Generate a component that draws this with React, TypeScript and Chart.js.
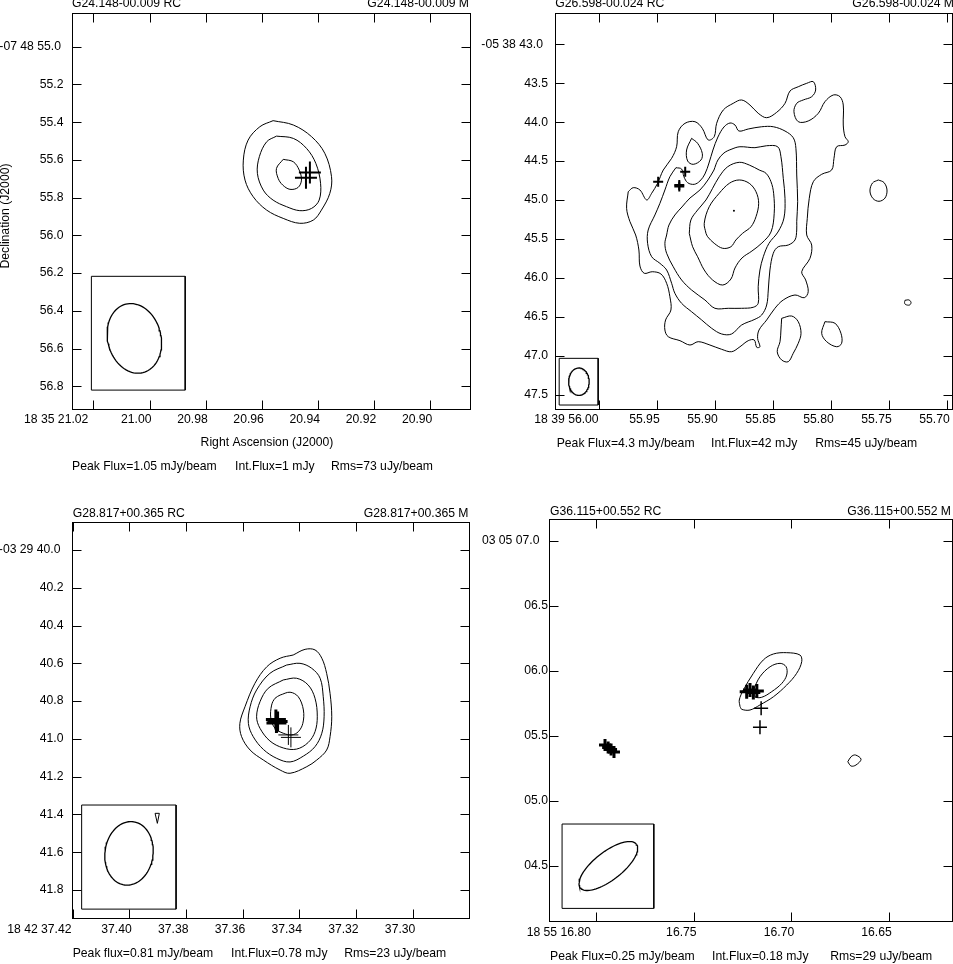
import React, { useEffect, useRef } from "react";
import { Chart, registerables } from "chart.js";

Chart.register(...registerables);

type Pt = [number, number];

// ================= Panel 1 : G24.148-00.009 =================
const p1Titles = ["G24.148-00.009 RC", "G24.148-00.009 M"];
const p1Stats = ["Peak Flux=1.05 mJy/beam", "Int.Flux=1 mJy", "Rms=73 uJy/beam"];
const p1XTicks = [21.02, 21.0, 20.98, 20.96, 20.94, 20.92, 20.9];
const p1XLabels = ["18 35 21.02", "21.00", "20.98", "20.96", "20.94", "20.92", "20.90"];
const p1YTicks = [55.0, 55.2, 55.4, 55.6, 55.8, 56.0, 56.2, 56.4, 56.6, 56.8];
const p1YLabels = ["-07 48 55.0", "55.2", "55.4", "55.6", "55.8", "56.0", "56.2", "56.4", "56.6", "56.8"];
const p1XLimits = [20.8859, 21.0276];
const p1YLimits = [54.8214, 56.9202];
const p1ArcsecPerSec = 14.86;
const p1Contour1: Pt[] = [[20.956, 55.392], [20.9488, 55.415], [20.9423, 55.477], [20.9376, 55.565], [20.9352, 55.689], [20.9358, 55.777], [20.9388, 55.866], [20.9417, 55.919], [20.9465, 55.936], [20.9524, 55.91], [20.9583, 55.866], [20.9631, 55.795], [20.966, 55.707], [20.9666, 55.601], [20.9649, 55.495], [20.9607, 55.424]];
const p1Contour2: Pt[] = [[20.9548, 55.474], [20.9488, 55.486], [20.9441, 55.539], [20.9408, 55.618], [20.9391, 55.724], [20.9396, 55.813], [20.9423, 55.857], [20.9465, 55.869], [20.9512, 55.848], [20.956, 55.813], [20.9595, 55.76], [20.9616, 55.671], [20.9609, 55.583], [20.9583, 55.504]];
const p1Contour3: Pt[] = [[20.9524, 55.597], [20.9488, 55.61], [20.9467, 55.654], [20.9459, 55.707], [20.9471, 55.746], [20.95, 55.756], [20.9526, 55.733], [20.9542, 55.698], [20.9548, 55.645]];
const p1Sources: Pt[] = [[20.9429, 55.667], [20.9443, 55.694]];
const p1Beam = [21.0054, 56.546, 0.187, 0.141, 14]; // centre RA s, centre Dec ", semi-major ", semi-minor ", PA deg
const p1BeamBox: Pt[] = [[21.0207, 56.217], [20.9873, 56.82]];

// ================= Panel 2 : G26.598-00.024 =================
const p2Titles = ["G26.598-00.024 RC", "G26.598-00.024 M"];
const p2Stats = ["Peak Flux=4.3 mJy/beam", "Int.Flux=42 mJy", "Rms=45 uJy/beam"];
const p2XTicks = [56.0, 55.95, 55.9, 55.85, 55.8, 55.75, 55.7];
const p2XLabels = ["18 39 56.00", "55.95", "55.90", "55.85", "55.80", "55.75", "55.70"];
const p2YTicks = [43.0, 43.5, 44.0, 44.5, 45.0, 45.5, 46.0, 46.5, 47.0, 47.5];
const p2YLabels = ["-05 38 43.0", "43.5", "44.0", "44.5", "45.0", "45.5", "46.0", "46.5", "47.0", "47.5"];
const p2XLimits = [55.6955, 56.0376];
const p2YLimits = [42.5974, 47.686];
const p2ArcsecPerSec = 14.93;
const p2Contour1: Pt[] = [[55.9745, 44.894], [55.9702, 44.842], [55.9644, 44.872], [55.9586, 45.0], [55.9543, 44.914], [55.9492, 44.786], [55.9443, 44.615], [55.9371, 44.465], [55.9328, 44.316], [55.9314, 44.123], [55.9256, 44.015], [55.917, 43.994], [55.9107, 44.079], [55.9056, 44.229], [55.9004, 44.187], [55.8983, 44.015], [55.8926, 43.844], [55.884, 43.758], [55.8768, 43.715], [55.8696, 43.78], [55.8625, 43.886], [55.8552, 43.943], [55.8466, 43.874], [55.8394, 43.758], [55.8351, 43.6], [55.828, 43.545], [55.8207, 43.501], [55.815, 43.48], [55.813, 43.587], [55.8164, 43.673], [55.8237, 43.715], [55.8293, 43.758], [55.8317, 43.866], [55.828, 43.994], [55.8194, 43.985], [55.8107, 43.886], [55.805, 43.737], [55.7978, 43.651], [55.792, 43.673], [55.7892, 43.78], [55.7892, 44.037], [55.7877, 44.187], [55.7849, 44.251], [55.7877, 44.294], [55.7949, 44.316], [55.7972, 44.465], [55.7992, 44.615], [55.8078, 44.67], [55.815, 44.765], [55.8185, 44.979], [55.8202, 45.236], [55.8207, 45.45], [55.8164, 45.579], [55.8179, 45.75], [55.825, 45.922], [55.8216, 46.028], [55.8194, 46.179], [55.8228, 46.256], [55.8308, 46.221], [55.8409, 46.285], [55.8481, 46.392], [55.8552, 46.542], [55.8618, 46.671], [55.863, 46.778], [55.861, 46.886], [55.8638, 46.893], [55.8659, 46.799], [55.8711, 46.808], [55.8782, 46.886], [55.8854, 46.95], [55.894, 46.919], [55.9041, 46.864], [55.9142, 46.821], [55.9213, 46.864], [55.9299, 46.808], [55.94, 46.757], [55.9429, 46.671], [55.9423, 46.542], [55.9377, 46.414], [55.9386, 46.243], [55.9414, 46.071], [55.9463, 45.951], [55.9538, 45.922], [55.9607, 45.942], [55.9644, 45.849], [55.9653, 45.643], [55.9681, 45.45], [55.973, 45.279], [55.9759, 45.107]];
const p2Contour2: Pt[] = [[55.9334, 44.585], [55.9285, 44.602], [55.9265, 44.701], [55.9233, 44.778], [55.9176, 44.799], [55.9127, 44.756], [55.9084, 44.666], [55.9049, 44.525], [55.9015, 44.358], [55.8972, 44.191], [55.892, 44.062], [55.8868, 44.011], [55.8825, 44.037], [55.8791, 44.114], [55.8711, 44.088], [55.8595, 44.059], [55.8495, 44.059], [55.8394, 44.114], [55.8323, 44.2], [55.83, 44.336], [55.8293, 44.679], [55.8285, 45.022], [55.8293, 45.279], [55.8293, 45.386], [55.8308, 45.514], [55.8366, 45.579], [55.8452, 45.601], [55.8495, 45.685], [55.8524, 45.9], [55.8538, 46.157], [55.8552, 46.35], [55.8595, 46.478], [55.8653, 46.533], [55.8768, 46.607], [55.8854, 46.722], [55.894, 46.722], [55.9026, 46.649], [55.9112, 46.542], [55.9199, 46.436], [55.9285, 46.328], [55.9343, 46.199], [55.9371, 46.071], [55.9414, 45.9], [55.9472, 45.814], [55.9543, 45.729], [55.9578, 45.557], [55.9573, 45.386], [55.9515, 45.193], [55.9472, 45.043], [55.9429, 44.872], [55.9386, 44.701]];
const p2Contour3: Pt[] = [[55.9006, 44.615], [55.8972, 44.486], [55.892, 44.396], [55.8851, 44.345], [55.8782, 44.316], [55.8653, 44.328], [55.8552, 44.303], [55.8457, 44.316], [55.8429, 44.444], [55.8409, 44.722], [55.8394, 44.979], [55.8403, 45.232], [55.8455, 45.412], [55.8532, 45.557], [55.8581, 45.729], [55.861, 45.9], [55.8625, 46.115], [55.8625, 46.328], [55.8668, 46.379], [55.8768, 46.392], [55.8883, 46.392], [55.8998, 46.392], [55.9084, 46.285], [55.9199, 46.157], [55.9285, 46.028], [55.9357, 45.858], [55.9414, 45.685], [55.9429, 45.557], [55.9414, 45.45], [55.9394, 45.322], [55.9343, 45.193], [55.9282, 45.09], [55.9213, 44.975], [55.9127, 44.872], [55.9058, 44.743]];
const p2Contour4: Pt[] = [[55.9219, 45.428], [55.9205, 45.257], [55.9147, 45.129], [55.9075, 45.0], [55.9018, 44.85], [55.8961, 44.701], [55.8888, 44.573], [55.8788, 44.516], [55.8702, 44.551], [55.8616, 44.615], [55.8558, 44.657], [55.8515, 44.765], [55.8492, 44.914], [55.8487, 45.171], [55.8515, 45.412], [55.8593, 45.553], [55.8679, 45.656], [55.8765, 45.746], [55.8825, 45.874], [55.886, 46.016], [55.8931, 46.093], [55.9018, 46.028], [55.909, 45.9], [55.9147, 45.729], [55.919, 45.601]];
const p2Contour5: Pt[] = [[55.9075, 45.428], [55.909, 45.3], [55.9047, 45.087], [55.8961, 44.914], [55.8874, 44.786], [55.8788, 44.743], [55.8702, 44.786], [55.8644, 44.894], [55.8621, 45.043], [55.8644, 45.215], [55.8687, 45.344], [55.8759, 45.428], [55.8817, 45.514], [55.886, 45.601], [55.8931, 45.621], [55.9004, 45.557], [55.9061, 45.472]];
const p2Island: Pt[] = [[55.9199, 44.208], [55.9147, 44.272], [55.9107, 44.4], [55.9118, 44.486], [55.9185, 44.542], [55.9233, 44.499], [55.9242, 44.358]];
const p2EastBlob: Pt[] = [[55.759, 44.743], [55.7541, 44.776], [55.7515, 44.872], [55.7532, 44.975], [55.7584, 45.017], [55.7636, 44.981], [55.7662, 44.885], [55.764, 44.782]];
const p2TinyBlob: Pt[] = [[55.736, 46.289], [55.7325, 46.285], [55.7308, 46.318], [55.7321, 46.35], [55.7356, 46.343], [55.7364, 46.318]];
const p2SouthBlobA: Pt[] = [[55.8423, 46.521], [55.8337, 46.491], [55.828, 46.564], [55.8256, 46.713], [55.828, 46.842], [55.8323, 46.97], [55.8366, 47.078], [55.8423, 47.056], [55.8461, 46.95], [55.8437, 46.821], [55.8429, 46.671]];
const p2SouthBlobB: Pt[] = [[55.805, 46.564], [55.7963, 46.585], [55.7912, 46.713], [55.7906, 46.842], [55.7949, 46.886], [55.8035, 46.821], [55.8078, 46.713]];
const p2Peak: Pt[] = [[55.8834, 45.138]];
const p2Sources: Pt[] = [[55.9487, 44.765], [55.9305, 44.808], [55.9305, 44.827], [55.9254, 44.637]];
const p2Beam = [56.017, 47.335, 0.176, 0.132, 0];
const p2BeamBox: Pt[] = [[56.034, 47.035], [56.0004, 47.635]];

// ================= Panel 3 : G28.817+00.365 =================
const p3Titles = ["G28.817+00.365 RC", "G28.817+00.365 M"];
const p3Stats = ["Peak flux=0.81 mJy/beam", "Int.Flux=0.78 mJy", "Rms=23 uJy/beam"];
const p3XTicks = [37.42, 37.4, 37.38, 37.36, 37.34, 37.32, 37.3];
const p3XLabels = ["18 42 37.42", "37.40", "37.38", "37.36", "37.34", "37.32", "37.30"];
const p3YTicks = [40.0, 40.2, 40.4, 40.6, 40.8, 41.0, 41.2, 41.4, 41.6, 41.8];
const p3YLabels = ["-03 29 40.0", "40.2", "40.4", "40.6", "40.8", "41.0", "41.2", "41.4", "41.6", "41.8"];
const p3XLimits = [37.2802, 37.4202];
const p3YLimits = [39.852, 41.948];
const p3ArcsecPerSec = 14.97;
const p3Contour1: Pt[] = [[37.3422, 40.556], [37.338, 40.526], [37.3345, 40.529], [37.3321, 40.573], [37.3304, 40.653], [37.3292, 40.759], [37.3286, 40.883], [37.3292, 40.988], [37.3304, 41.059], [37.3339, 41.112], [37.3374, 41.147], [37.3433, 41.182], [37.3468, 41.165], [37.3527, 41.112], [37.3574, 41.059], [37.3604, 40.988], [37.361, 40.918], [37.3592, 40.83], [37.3557, 40.706], [37.3515, 40.618], [37.3468, 40.573]];
const p3Contour2: Pt[] = [[37.3445, 40.609], [37.3398, 40.6], [37.3357, 40.626], [37.3327, 40.679], [37.3316, 40.777], [37.3313, 40.883], [37.3321, 40.97], [37.3345, 41.041], [37.3386, 41.091], [37.3433, 41.122], [37.348, 41.103], [37.3527, 41.056], [37.3563, 40.988], [37.358, 40.918], [37.3574, 40.83], [37.3551, 40.741], [37.3504, 40.653]];
const p3Contour3: Pt[] = [[37.3457, 40.688], [37.341, 40.679], [37.3369, 40.715], [37.3345, 40.785], [37.3337, 40.883], [37.3345, 40.962], [37.3369, 41.019], [37.341, 41.054], [37.3457, 41.048], [37.3504, 41.011], [37.3539, 40.944], [37.3551, 40.883], [37.3539, 40.803], [37.351, 40.732]];
const p3Contour4: Pt[] = [[37.3468, 40.768], [37.3433, 40.753], [37.3404, 40.777], [37.3386, 40.847], [37.3388, 40.918], [37.3404, 40.962], [37.3427, 40.979], [37.3457, 40.97], [37.3486, 40.944], [37.3501, 40.891], [37.3498, 40.821], [37.3486, 40.785]];
const p3Negative: Pt[] = [[37.3909, 41.394], [37.3894, 41.394], [37.3901, 41.447]];
const p3SourcesBold: Pt[] = [[37.3483, 40.897], [37.3477, 40.908], [37.3481, 40.916]];
const p3SourcesThin: Pt[] = [[37.3439, 40.979], [37.343, 40.992]];
const p3Beam = [37.4001, 41.606, 0.169, 0.127, -8];
const p3BeamBox: Pt[] = [[37.4168, 41.35], [37.3835, 41.901]];

// ================= Panel 4 : G36.115+00.552 =================
const p4Titles = ["G36.115+00.552 RC", "G36.115+00.552 M"];
const p4Stats = ["Peak Flux=0.25 mJy/beam", "Int.Flux=0.18 mJy", "Rms=29 uJy/beam"];
const p4XTicks = [16.8, 16.75, 16.7, 16.65];
const p4XLabels = ["18 55 16.80", "16.75", "16.70", "16.65"];
const p4YTicks = [7.0, 6.5, 6.0, 5.5, 5.0, 4.5];
const p4YLabels = ["03 05 07.0", "06.5", "06.0", "05.5", "05.0", "04.5"];
const p4XLimits = [16.6176, 16.8241];
const p4YLimits = [4.0771, 7.1693];
const p4ArcsecPerSec = 14.98;
const p4Contour1: Pt[] = [[16.7262, 5.726], [16.7266, 5.777], [16.7245, 5.854], [16.7194, 5.982], [16.7143, 6.085], [16.7091, 6.131], [16.7023, 6.141], [16.6955, 6.123], [16.6946, 6.072], [16.6972, 5.982], [16.7023, 5.892], [16.7091, 5.802], [16.716, 5.739], [16.7211, 5.7], [16.7253, 5.705]];
const p4Contour2: Pt[] = [[16.7194, 5.854], [16.716, 5.956], [16.7108, 6.033], [16.7057, 6.059], [16.7026, 6.033], [16.7023, 5.969], [16.7048, 5.905], [16.71, 5.841], [16.7151, 5.798], [16.7185, 5.802]];
const p4Blob: Pt[] = [[16.671, 5.302], [16.6693, 5.341], [16.6671, 5.354], [16.6642, 5.321], [16.6668, 5.277], [16.6693, 5.269]];
const p4SourcesA: Pt[] = [[16.7228, 5.841], [16.7211, 5.854], [16.7194, 5.835], [16.7176, 5.846]];
const p4SourcesThin: Pt[] = [[16.7154, 5.713], [16.716, 5.567]];
const p4SourcesB: Pt[] = [[16.7954, 5.431], [16.7938, 5.412], [16.7923, 5.396], [16.7908, 5.377]];
const p4Beam = [16.7937, 4.5, 0.273, 0.108, -52];
const p4BeamBox: Pt[] = [[16.8174, 4.823], [16.7704, 4.174]];

// ================= layout & styling =================
const W = 953;
const H = 964;
const FONT = '12.2px "Liberation Sans", Arial, Helvetica, sans-serif';

interface CrossSet { pts: Pt[]; r: number; w: number; }
interface Spec {
  frame: { left: number; top: number; right: number; bottom: number };
  xLimits: number[]; yLimits: number[]; yReverse: boolean; northSign: number; k: number;
  xTicks: number[]; xLabels: string[]; yTicks: number[]; yLabels: string[];
  contours: Pt[][]; polys: Pt[][]; crosses: CrossSet[]; dots: Pt[];
  beam: number[]; beamBox: Pt[];
  titles: string[]; stats: string[];
  txt: { titleY: number; titleLX: number; titleRX: number; statsY: number; statsX: number[]; xLabY: number; xOff: number; xFirstOff: number; yLabR: number; yFirstR: number };
  axisTitles: boolean;
}

const SPECS: Spec[] = [
  {
    frame: { left: 72, top: 13, right: 470, bottom: 409 },
    xLimits: p1XLimits, yLimits: p1YLimits, yReverse: true, northSign: -1, k: p1ArcsecPerSec,
    xTicks: p1XTicks, xLabels: p1XLabels, yTicks: p1YTicks, yLabels: p1YLabels,
    contours: [p1Contour1, p1Contour2, p1Contour3], polys: [],
    crosses: [{ pts: p1Sources, r: 11, w: 2 }], dots: [],
    beam: p1Beam, beamBox: p1BeamBox, titles: p1Titles, stats: p1Stats,
    txt: { titleY: 6.7, titleLX: 72, titleRX: 469, statsY: 466.5, statsX: [72, 235, 331], xLabY: 419.5, xOff: 2, xFirstOff: -5, yLabR: 63.5, yFirstR: 61 },
    axisTitles: true,
  },
  {
    frame: { left: 555, top: 13, right: 952, bottom: 409 },
    xLimits: p2XLimits, yLimits: p2YLimits, yReverse: true, northSign: -1, k: p2ArcsecPerSec,
    xTicks: p2XTicks, xLabels: p2XLabels, yTicks: p2YTicks, yLabels: p2YLabels,
    contours: [p2Contour1, p2Contour2, p2Contour3, p2Contour4, p2Contour5, p2Island, p2EastBlob, p2TinyBlob, p2SouthBlobA, p2SouthBlobB], polys: [],
    crosses: [{ pts: p2Sources, r: 5, w: 2 }], dots: p2Peak,
    beam: p2Beam, beamBox: p2BeamBox, titles: p2Titles, stats: p2Stats,
    txt: { titleY: 6.7, titleLX: 555.3, titleRX: 954, statsY: 444, statsX: [556.7, 711, 815.3], xLabY: 419.5, xOff: 3, xFirstOff: 0, yLabR: 548, yFirstR: 543 },
    axisTitles: false,
  },
  {
    frame: { left: 72, top: 522, right: 469, bottom: 918 },
    xLimits: p3XLimits, yLimits: p3YLimits, yReverse: true, northSign: -1, k: p3ArcsecPerSec,
    xTicks: p3XTicks, xLabels: p3XLabels, yTicks: p3YTicks, yLabels: p3YLabels,
    contours: [p3Contour1, p3Contour2, p3Contour3, p3Contour4], polys: [p3Negative],
    crosses: [{ pts: p3SourcesBold, r: 10, w: 3 }, { pts: p3SourcesThin, r: 10, w: 1 }], dots: [],
    beam: p3Beam, beamBox: p3BeamBox, titles: p3Titles, stats: p3Stats,
    txt: { titleY: 516.7, titleLX: 72.7, titleRX: 468.5, statsY: 954, statsX: [72.7, 231, 344.3], xLabY: 929.5, xOff: 2.5, xFirstOff: -1, yLabR: 63.5, yFirstR: 60.5 },
    axisTitles: false,
  },
  {
    frame: { left: 549, top: 519, right: 952, bottom: 921 },
    xLimits: p4XLimits, yLimits: p4YLimits, yReverse: false, northSign: 1, k: p4ArcsecPerSec,
    xTicks: p4XTicks, xLabels: p4XLabels, yTicks: p4YTicks, yLabels: p4YLabels,
    contours: [p4Contour1, p4Contour2, p4Blob], polys: [],
    crosses: [{ pts: p4SourcesA, r: 7, w: 3 }, { pts: p4SourcesThin, r: 7, w: 1.5 }, { pts: p4SourcesB, r: 6, w: 3 }], dots: [],
    beam: p4Beam, beamBox: p4BeamBox, titles: p4Titles, stats: p4Stats,
    txt: { titleY: 515, titleLX: 550, titleRX: 951, statsY: 956.5, statsX: [550, 712, 830.3], xLabY: 932.5, xOff: 3, xFirstOff: -5, yLabR: 548, yFirstR: 539.5 },
    axisTitles: false,
  },
];

const toXY = (pts: Pt[]) => pts.map((p) => ({ x: p[0], y: p[1] }));
const closed = (pts: Pt[]) => toXY([...pts, pts[0]]);

function beamOutline(beam: number[], k: number, ns: number) {
  const [cx, cy, a, b, paDeg] = beam;
  const pa = (paDeg * Math.PI) / 180;
  const out: { x: number; y: number }[] = [];
  for (let i = 0; i <= 90; i++) {
    const t = (i / 90) * Math.PI * 2;
    const u = a * Math.cos(t);
    const v = b * Math.sin(t);
    const dE = u * Math.sin(pa) + v * Math.cos(pa);
    const dN = u * Math.cos(pa) - v * Math.sin(pa);
    out.push({ x: cx + dE / k, y: cy + ns * dN });
  }
  return out;
}

function boxOutline(box: Pt[]) {
  const [[x1, y1], [x2, y2]] = box;
  return toXY([[x1, y1], [x2, y1], [x2, y2], [x1, y2], [x1, y1]]);
}

function Panel({ spec, idx }: { spec: Spec; idx: number }) {
  const ref = useRef<HTMLCanvasElement>(null);
  useEffect(() => {
    const line = (data: any[], width: number, tension: number) => ({
      data, showLine: true, borderColor: "#000", borderWidth: width, pointRadius: 0, tension, fill: false,
    });
    const datasets: any[] = [];
    spec.contours.forEach((c) => datasets.push(line(closed(c), 1, 0.35)));
    spec.polys.forEach((c) => datasets.push(line(closed(c), 1, 0)));
    datasets.push(line(beamOutline(spec.beam, spec.k, spec.northSign), 1.3, 0));
    datasets.push(line(boxOutline(spec.beamBox), 1, 0));
    spec.crosses.forEach((cs) =>
      datasets.push({ data: toXY(cs.pts), showLine: false, pointStyle: "cross", pointRadius: cs.r, borderWidth: cs.w, borderColor: "#000", backgroundColor: "#000" })
    );
    if (spec.dots.length) datasets.push({ data: toXY(spec.dots), showLine: false, pointStyle: "circle", pointRadius: 1, borderWidth: 0, backgroundColor: "#000" });

    const f = spec.frame;
    const decor = {
      id: "decor" + idx,
      afterDraw(chart: any) {
        const { ctx, chartArea: a, scales } = chart;
        const xs = scales.x;
        const ys = scales.y;
        const T = spec.txt;
        ctx.save();
        ctx.strokeStyle = "#000";
        ctx.lineWidth = 1;
        const L = Math.round(a.left) + 0.5, R = Math.round(a.right) + 0.5;
        const Tp = Math.round(a.top) + 0.5, B = Math.round(a.bottom) + 0.5;
        ctx.strokeRect(L, Tp, R - L, B - Tp);
        const tl = 9;
        ctx.beginPath();
        spec.xTicks.forEach((v) => {
          const px = Math.round(xs.getPixelForValue(v)) + 0.5;
          ctx.moveTo(px, Tp); ctx.lineTo(px, Tp + tl);
          ctx.moveTo(px, B); ctx.lineTo(px, B - tl);
        });
        spec.yTicks.forEach((v) => {
          const py = Math.round(ys.getPixelForValue(v)) + 0.5;
          ctx.moveTo(L, py); ctx.lineTo(L + tl, py);
          ctx.moveTo(R, py); ctx.lineTo(R - tl, py);
        });
        ctx.stroke();

        ctx.fillStyle = "#000";
        ctx.font = FONT;
        ctx.textBaseline = "middle";
        ctx.textAlign = "right";
        spec.xTicks.forEach((v, i) => {
          const px = xs.getPixelForValue(v);
          ctx.fillText(spec.xLabels[i], px + (i === 0 ? T.xFirstOff : T.xOff), T.xLabY);
        });
        spec.yTicks.forEach((v, i) => {
          const py = ys.getPixelForValue(v);
          ctx.fillText(spec.yLabels[i], i === 0 ? T.yFirstR : T.yLabR, py);
        });

        ctx.textBaseline = "alphabetic";
        ctx.textAlign = "left";
        ctx.fillText(spec.titles[0], T.titleLX, T.titleY);
        ctx.textAlign = "right";
        ctx.fillText(spec.titles[1], T.titleRX, T.titleY);

        ctx.textBaseline = "middle";
        ctx.textAlign = "left";
        spec.stats.forEach((s, i) => ctx.fillText(s, T.statsX[i], T.statsY));

        if (spec.axisTitles) {
          ctx.textAlign = "center";
          ctx.fillText("Right Ascension (J2000)", (f.left + f.right) / 2 - 4, 442.7);
          ctx.save();
          ctx.translate(5.5, (f.top + f.bottom) / 2 + 5);
          ctx.rotate(-Math.PI / 2);
          ctx.fillText("Declination (J2000)", 0, 0);
          ctx.restore();
        }
        ctx.restore();
      },
    };

    const chart = new Chart(ref.current as HTMLCanvasElement, {
      type: "scatter",
      data: { datasets },
      options: {
        responsive: false,
        animation: false,
        events: [],
        layout: { autoPadding: false, padding: { left: f.left, top: f.top, right: W - f.right, bottom: H - f.bottom } },
        plugins: { legend: { display: false }, tooltip: { enabled: false }, title: { display: false } },
        scales: {
          x: { type: "linear", display: false, min: spec.xLimits[0], max: spec.xLimits[1], reverse: true },
          y: { type: "linear", display: false, min: spec.yLimits[0], max: spec.yLimits[1], reverse: spec.yReverse },
        },
      } as any,
      plugins: [decor],
    });
    return () => chart.destroy();
  }, []);
  return <canvas ref={ref} width={W} height={H} style={{ position: "absolute", left: 0, top: 0 }} />;
}

export default function App() {
  return (
    <div style={{ position: "absolute", left: 0, top: 0, width: W, height: H, overflow: "hidden" }}>
      {SPECS.map((s, i) => (
        <Panel key={i} spec={s} idx={i} />
      ))}
    </div>
  );
}
